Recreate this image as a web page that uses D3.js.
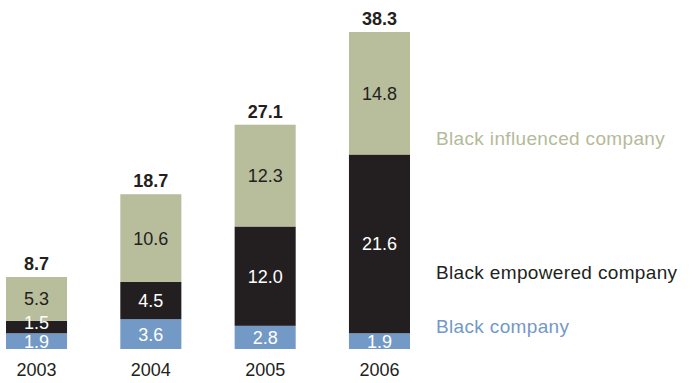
<!DOCTYPE html>
<html>
<head>
<meta charset="utf-8">
<script src="https://cdn.jsdelivr.net/npm/d3@7/dist/d3.min.js"></script>
<style>
  html, body { margin: 0; padding: 0; background: #fff; }
  svg { display: block; font-family: "Liberation Sans", Arial, sans-serif; }
</style>
</head>
<body>
<svg id="chart" width="692" height="383"></svg>
<script>
// Stacked bars: company value by ownership category per year
const years = ["2003", "2004", "2005", "2006"];
const blackCompany = [1.9, 3.6, 2.8, 1.9];
const blackEmpowered = [1.5, 4.5, 12.0, 21.6];
const blackInfluenced = [5.3, 10.6, 12.3, 14.8];
const totals = [8.7, 18.7, 27.1, 38.3];

const seriesNames = ["Black company", "Black empowered company", "Black influenced company"];
const seriesFill = ["#7399c6", "#231f20", "#b8bd9c"];
const seriesText = ["#ffffff", "#ffffff", "#231f20"];
const legendColor = ["#7399c6", "#231f20", "#b5ba99"];
const legendBaseline = [333, 279, 145];

const rows = years.map((y, i) => ({
  year: y,
  company: blackCompany[i],
  empowered: blackEmpowered[i],
  influenced: blackInfluenced[i],
  total: totals[i]
}));
const keys = ["company", "empowered", "influenced"];

const svg = d3.select("#chart");

const x = d3.scaleBand()
  .domain(years)
  .range([6, 410])
  .paddingInner(0.466)
  .paddingOuter(0);

const y = d3.scaleLinear()
  .domain([0, d3.max(totals)])
  .range([349, 32]);

const stacked = d3.stack().keys(keys)(rows);

// Label centres: middle of each segment, pushed up when the segment
// below is too thin to keep the two numbers apart.
const minGap = 19;
const labelY = rows.map((r, i) => {
  let prev = Infinity;
  return stacked.map(layer => {
    const d = layer[i];
    const c = Math.min((y(d[0]) + y(d[1])) / 2, prev - minGap);
    prev = c;
    return c;
  });
});

stacked.forEach((layer, li) => {
  const g = svg.append("g").attr("class", "layer");
  g.selectAll("rect")
    .data(layer)
    .join("rect")
    .attr("x", d => x(d.data.year))
    .attr("width", x.bandwidth())
    .attr("y", d => y(d[1]))
    .attr("height", d => y(d[0]) - y(d[1]))
    .attr("fill", seriesFill[li]);
});

stacked.forEach((layer, li) => {
  svg.append("g")
    .selectAll("text")
    .data(layer)
    .join("text")
    .attr("x", d => x(d.data.year) + x.bandwidth() / 2)
    .attr("y", (d, i) => labelY[i][li])
    .attr("dy", "0.36em")
    .attr("text-anchor", "middle")
    .attr("font-size", 18)
    .attr("fill", seriesText[li])
    .text(d => d3.format(".1f")(d[1] - d[0]));
});

// Totals above each bar
svg.append("g")
  .selectAll("text")
  .data(rows)
  .join("text")
  .attr("x", d => x(d.year) + x.bandwidth() / 2)
  .attr("y", d => y(d.total) - 7)
  .attr("text-anchor", "middle")
  .attr("font-size", 18)
  .attr("font-weight", "bold")
  .attr("fill", "#231f20")
  .text(d => d3.format(".1f")(d.total));

// Year axis
const xAxis = d3.axisBottom(x).tickSize(0).tickPadding(0);
const axisG = svg.append("g")
  .attr("transform", "translate(0,349)")
  .call(xAxis);
axisG.select(".domain").remove();
axisG.selectAll("text")
  .attr("y", 27)
  .attr("dy", 0)
  .attr("font-size", 18)
  .attr("font-family", "Liberation Sans, Arial, sans-serif")
  .attr("fill", "#231f20");

// Legend labels to the right of the bars
svg.append("g")
  .selectAll("text")
  .data(seriesNames)
  .join("text")
  .attr("x", 436)
  .attr("y", (d, i) => legendBaseline[i])
  .attr("font-size", 19)
  .attr("letter-spacing", 0.35)
  .attr("fill", (d, i) => legendColor[i])
  .text(d => d);
</script>
</body>
</html>
